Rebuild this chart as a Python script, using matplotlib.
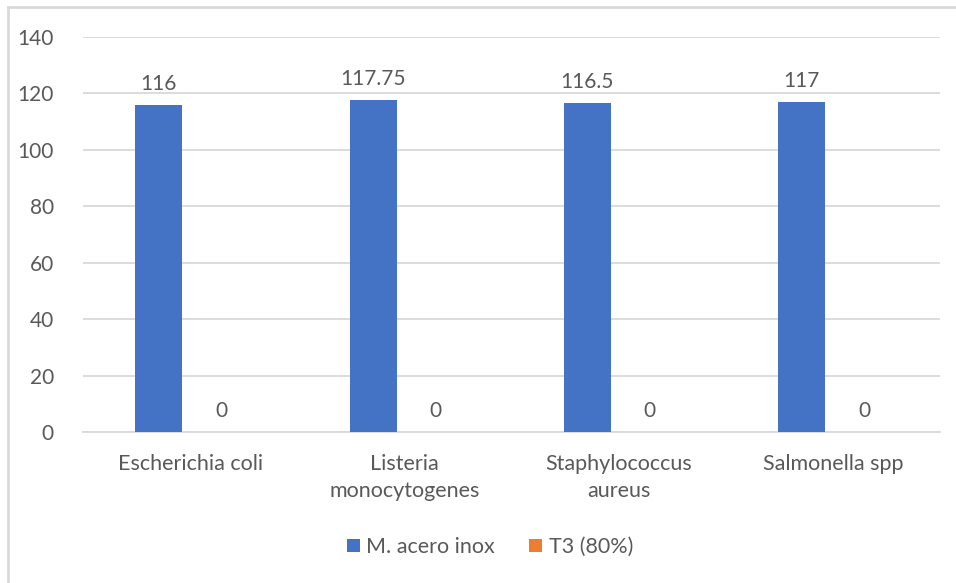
import matplotlib
matplotlib.use("Agg")
import matplotlib.pyplot as plt
from matplotlib.lines import Line2D
import numpy as np

categories = ["Escherichia coli", "Listeria\nmonocytogenes", "Staphylococcus\naureus", "Salmonella spp"]
acero_inox = [116, 117.75, 116.5, 117]
t3_80 = [0, 0, 0, 0]
series_names = ["M. acero inox", "T3 (80%)"]
yticks = [0, 20, 40, 60, 80, 100, 120, 140]

blue = "#4472C4"
orange = "#ED7D31"
text_gray = "#595959"
grid_gray = "#D9D9D9"

plt.rcParams["font.family"] = ["Lato", "DejaVu Sans"]

W, H = 956, 583
fig = plt.figure(figsize=(W / 100, H / 100), dpi=100)
# chart frame: left and top edges
fig.lines.append(Line2D([7.5 / W, 7.5 / W], [0, 1 - 7 / H], transform=fig.transFigure,
                        color=grid_gray, linewidth=2))
fig.lines.append(Line2D([7.5 / W, 1], [1 - 7 / H, 1 - 7 / H], transform=fig.transFigure,
                        color=grid_gray, linewidth=2))

ax = fig.add_axes([83 / W, 1 - 432 / H, (940 - 83) / W, (432 - 37) / H])
x = np.arange(len(categories))
bw = 0.22
off = 0.146
b1 = ax.bar(x - off, acero_inox, bw, color=blue, label=series_names[0], zorder=3)
b2 = ax.bar(x + off, t3_80, bw, color=orange, label=series_names[1], zorder=3)

for bars, vals in ((b1, acero_inox), (b2, t3_80)):
    for rect, v in zip(bars, vals):
        ax.annotate(f"{v:g}", (rect.get_x() + rect.get_width() / 2, v), xytext=(0, 8),
                    textcoords="offset points", ha="center", va="bottom", fontsize=15, color=text_gray)

ax.set_xlim(-0.5, len(categories) - 0.5)
ax.set_ylim(0, 140)
ax.set_yticks(yticks)
ax.set_yticklabels([str(t) for t in yticks], fontsize=15, color=text_gray)
ax.set_xticks(x)
ax.set_xticklabels(categories, fontsize=15.5, color=text_gray, linespacing=1.45)
ax.tick_params(axis="both", length=0)
ax.tick_params(axis="x", pad=16)
ax.tick_params(axis="y", pad=21)
ax.grid(axis="y", color=grid_gray, linewidth=1.3, zorder=0)
for s in ["top", "right", "left"]:
    ax.spines[s].set_visible(False)
ax.spines["bottom"].set_color(grid_gray)
ax.spines["bottom"].set_linewidth(1.3)

leg = fig.legend(handles=[b1, b2], labels=series_names, loc="center", bbox_to_anchor=(490 / W, 1 - 547 / H),
                 ncol=2, frameon=False, fontsize=15.5, handlelength=0.6, handleheight=0.6,
                 handletextpad=0.3, columnspacing=1.6)
for t in leg.get_texts():
    t.set_color(text_gray)

fig.savefig("out.png", dpi=100)
